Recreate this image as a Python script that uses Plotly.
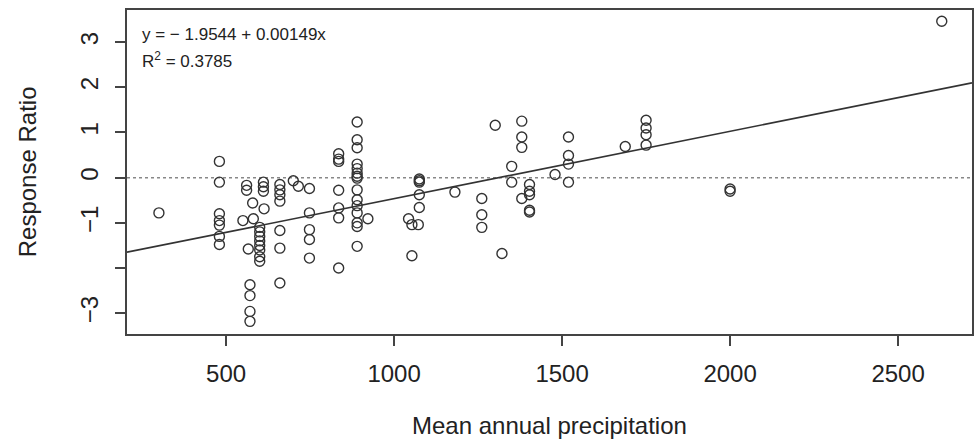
import plotly.graph_objects as go

# Data
precip = [300,
          480, 480, 480, 480, 480, 480, 480,
          550, 561, 561, 579, 581, 566,
          571, 571, 571, 571,
          611, 611, 611, 613,
          600, 600, 600, 600, 600, 600, 600, 600,
          660, 660, 660, 660, 660, 660, 660,
          700, 715,
          748, 748, 748, 748, 748,
          835, 835, 835, 835, 835, 835, 835,
          890, 890, 890, 890, 890, 890, 890, 890, 890, 890, 890, 890, 890, 890, 890,
          922, 1043, 1053, 1053, 1072,
          1075, 1075, 1075, 1075, 1075,
          1181, 1261, 1261, 1261, 1301, 1321, 1350, 1350,
          1380, 1380, 1380, 1380,
          1403, 1403, 1403, 1403, 1403,
          1479, 1519, 1519, 1519, 1519,
          1688, 1750, 1750, 1750, 1750,
          2000, 2000, 2630]
response = [-0.78,
            0.36, -0.10, -0.80, -0.95, -1.05, -1.30, -1.48,
            -0.95, -0.17, -0.28, -0.56, -0.91, -1.58,
            -2.37, -2.61, -2.96, -3.18,
            -0.10, -0.20, -0.30, -0.69,
            -1.10, -1.20, -1.30, -1.40, -1.50, -1.60, -1.75, -1.85,
            -0.15, -0.27, -0.38, -0.52, -1.17, -1.56, -2.33,
            -0.07, -0.19,
            -0.24, -0.78, -1.15, -1.37, -1.78,
            0.53, 0.41, 0.36, -0.28, -0.67, -0.89, -2.00,
            1.23, 0.84, 0.66, 0.30, 0.20, 0.10, 0.03, -0.01, -0.27, -0.49, -0.62, -0.78, -1.00, -1.08, -1.52,
            -0.91, -0.91, -1.04, -1.73, -1.04,
            -0.03, -0.07, -0.10, -0.38, -0.66,
            -0.32, -0.46, -0.82, -1.10, 1.16, -1.68, 0.25, -0.10,
            1.25, 0.90, 0.67, -0.46,
            -0.15, -0.30, -0.38, -0.72, -0.76,
            0.07, 0.90, 0.49, 0.30, -0.10,
            0.69, 1.27, 1.10, 0.95, 0.72,
            -0.25, -0.30, 3.46]

intercept = -1.9544
slope = 0.00149
r_squared = 0.3785

x_ticks = [500, 1000, 1500, 2000, 2500]
y_ticks = [-3, -1, 0, 1, 2, 3]
y_tick_text = ["\u22123", "\u22121", "0", "1", "2", "3"]
y_unlabeled_ticks = [-2]

x_range = [205, 2720]
y_range = [-3.46, 3.71]

FONT = "Liberation Sans, Arial, sans-serif"
INK = "#222222"

fig = go.Figure()

# zero reference line (dotted)
fig.add_trace(go.Scatter(
    x=x_range, y=[0, 0], mode="lines",
    line=dict(color="#888888", width=1.5, dash="dot"),
    hoverinfo="skip", showlegend=False))

# regression line
fig.add_trace(go.Scatter(
    x=x_range, y=[intercept + slope * x_range[0], intercept + slope * x_range[1]],
    mode="lines", line=dict(color="#333333", width=1.6),
    hoverinfo="skip", showlegend=False))

# data points
fig.add_trace(go.Scatter(
    x=precip, y=response, mode="markers",
    marker=dict(symbol="circle-open", size=10, color="#333333",
                line=dict(width=1.4, color="#333333")),
    showlegend=False))

fig.add_annotation(
    xref="paper", yref="paper", x=0.015, y=0.925, xanchor="left", yanchor="middle",
    text="y = \u2212 1.9544 + 0.00149x", showarrow=False,
    font=dict(family=FONT, size=17, color=INK))
fig.add_annotation(
    xref="paper", yref="paper", x=0.015, y=0.845, xanchor="left", yanchor="middle",
    text="R<sup>2</sup> = %.4f" % r_squared, showarrow=False,
    font=dict(family=FONT, size=17, color=INK))

# axis titles
fig.add_annotation(
    xref="paper", yref="paper", x=0.5, y=-0.281, xanchor="center", yanchor="middle",
    text="Mean annual precipitation", showarrow=False,
    font=dict(family=FONT, size=24, color=INK))
fig.add_annotation(
    xref="paper", yref="paper", x=-0.118, y=0.5, xanchor="center", yanchor="middle",
    text="Response Ratio", showarrow=False, textangle=-90,
    font=dict(family=FONT, size=24, color=INK))

axis_common = dict(
    showgrid=False, zeroline=False, showline=True, mirror=True,
    linecolor="#444444", linewidth=1.5, automargin=False,
    ticks="outside", ticklen=10, tickwidth=1.5, tickcolor="#444444",
    tickfont=dict(family=FONT, size=24, color=INK),
)

fig.update_layout(
    width=976, height=440,
    margin=dict(l=127, r=4, t=10, b=106),
    paper_bgcolor="white", plot_bgcolor="white",
    xaxis=dict(range=x_range, tickvals=x_ticks, ticklabelstandoff=7,
               **axis_common),
    yaxis=dict(range=y_range, tickvals=y_ticks, ticktext=y_tick_text,
               tickangle=-90, ticklabelstandoff=8,
               minor=dict(tickvals=y_unlabeled_ticks, ticks="outside", ticklen=10,
                          tickwidth=1.5, tickcolor="#444444", showgrid=False),
               **axis_common),
)

fig.write_html("out.html", config={"displayModeBar": False},
               post_script="document.body.style.margin='0';document.body.style.overflow='hidden';")
